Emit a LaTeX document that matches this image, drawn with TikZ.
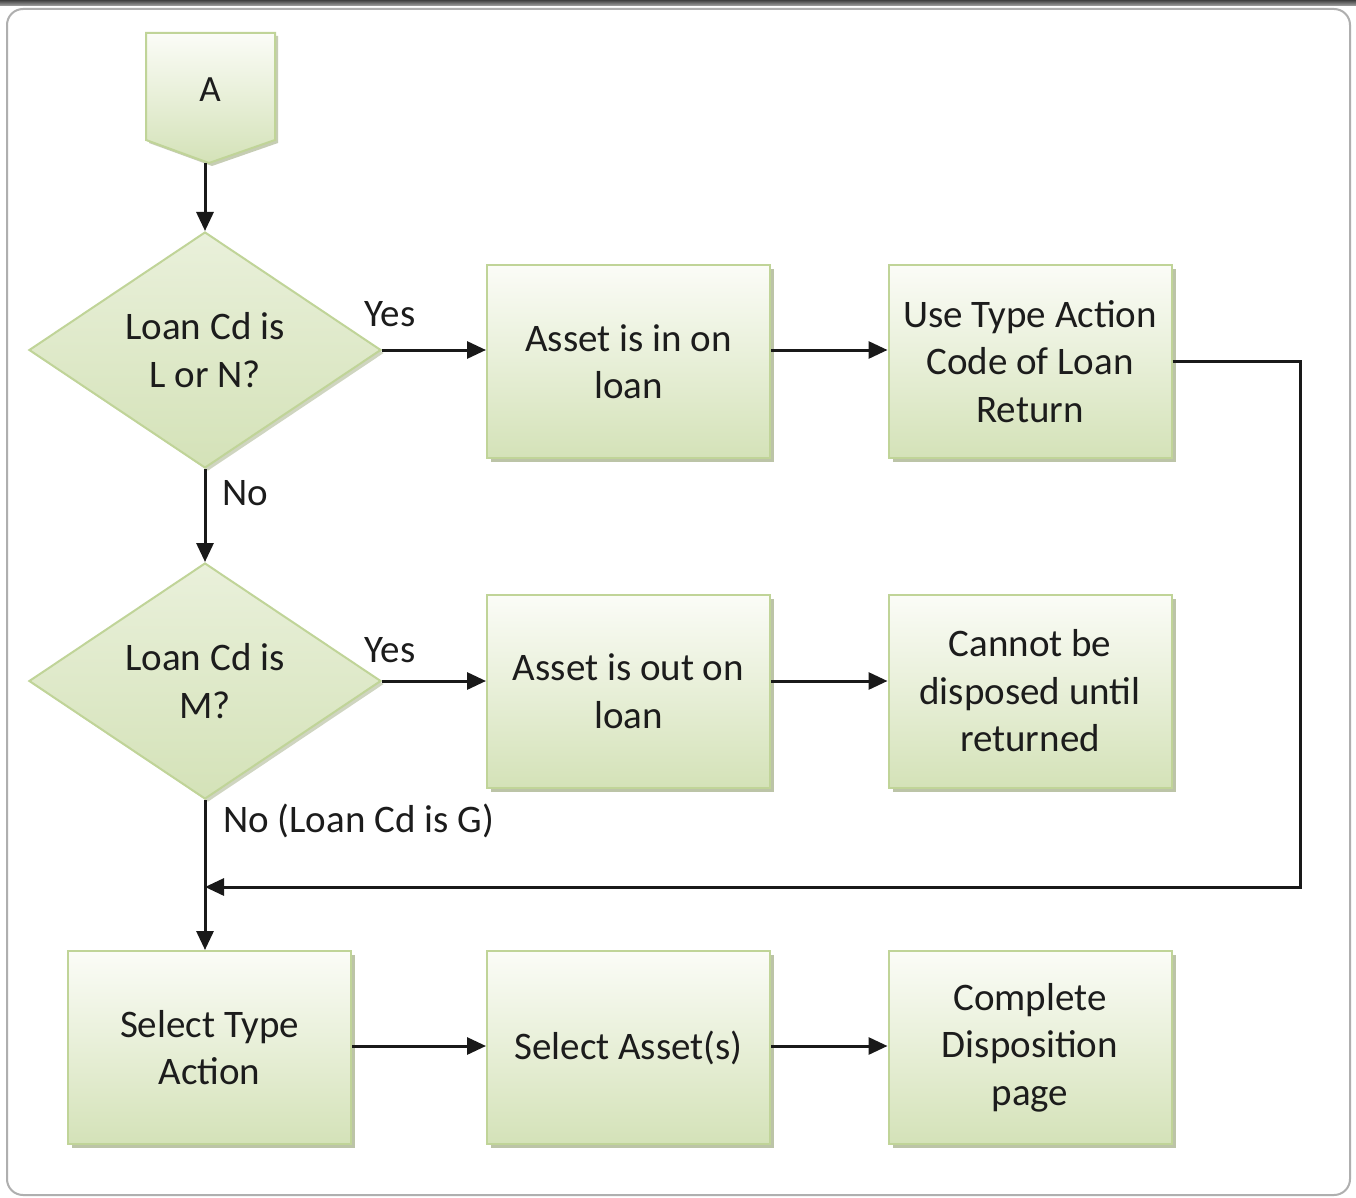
\documentclass[tikz,border=0pt]{standalone}
\usepackage{fontspec}
\setmainfont{Carlito}
\usetikzlibrary{shapes.geometric,arrows.meta,shadows,calc}
\definecolor{gborder}{RGB}{192,212,152}
\definecolor{gbot}{RGB}{212,226,184}
\definecolor{gtop}{RGB}{251,252,247}
\definecolor{txt}{RGB}{28,28,28}
\definecolor{shad}{RGB}{160,172,130}
\definecolor{framec}{RGB}{175,175,175}
\begin{document}
\begin{tikzpicture}[x=1pt,y=-1pt,
  lbl/.style={font=\fontsize{39}{47.5}\selectfont, text=txt, align=center, inner sep=0pt},
  box/.style={lbl, rectangle, draw=gborder, line width=2pt, top color=gtop, bottom color=gbot,
    minimum width=283pt, minimum height=193pt,
    drop shadow={shadow xshift=4pt, shadow yshift=-4pt, fill=shad, opacity=0.7}},
  dec/.style={lbl, diamond, draw=gborder, line width=2pt, top color=gtop!55!gbot, bottom color=gbot,
    minimum width=352pt, minimum height=236pt,
    drop shadow={shadow xshift=3pt, shadow yshift=-3pt, fill=shad, opacity=0.5}},
  conn/.style={line width=3pt, draw=black!90},
  arr/.style={conn, -{Triangle[width=17pt,length=19pt]}},
  ylab/.style={font=\fontsize{39}{47}\selectfont, text=txt, inner sep=0pt}
]
\useasboundingbox (0,0) rectangle (1356,1198);
% frame
\fill[white] (0,0) rectangle (1356,1198);
\shade[top color=black!75, bottom color=black!35] (0,0) rectangle (1356,6);
\draw[framec, line width=2pt, rounded corners=16pt] (7,9) rectangle (1350,1195);

% off-page connector A
\shade[draw=gborder, line width=2pt, top color=gtop, bottom color=gbot,
  drop shadow={shadow xshift=3pt, shadow yshift=-3pt, fill=shad, opacity=0.6}]
  (146,33) -- (275,33) -- (275,140) -- (209,163) -- (146,140) -- cycle;
\node[lbl, font=\fontsize{37}{44}\selectfont] (A) at (210,90) {A};
\coordinate (Atip) at (205,163);

% decisions
\node[dec] (d1) at (205,350) {Loan Cd is\\L or N?};
\node[dec] (d2) at (205,681) {Loan Cd is\\M?};

% boxes
\node[box] (in)   at (628.5,361.5) {Asset is in on\\loan};
\node[box] (use)  at (1030,361.5) {Use Type Action\\Code of Loan\\Return};
\node[box] (out)  at (628.5,691) {Asset is out on\\loan};
\node[box] (cant) at (1030,691) {Cannot be\\disposed until\\returned};
\node[box] (sel)  at (209.5,1047.5) {Select Type\\Action};
\node[box] (sa)   at (628.5,1047.5) {Select Asset(s)};
\node[box] (comp) at (1030,1047.5) {Complete\\Disposition\\page};

% labels
\node[ylab] (y1) at (390,314) {Yes};
\node[ylab] (n1) at (245,493) {No};
\node[ylab] (y2) at (390,650) {Yes};
\node[ylab, anchor=west] (n2) at (223,821) {No (Loan Cd is G)};

% connectors
\coordinate (join) at (205,887);
\coordinate (rt) at (1300,887);
\draw[arr] (Atip) -- (d1.north);
\draw[arr] (d1.east) -- (d1.east -| in.west);
\draw[arr] (in.east |- d1.east) -- (use.west |- d1.east);
\draw[arr] (d1.south) -- (d2.north);
\draw[arr] (d2.east) -- (d2.east -| out.west);
\draw[arr] (out.east |- d2.east) -- (cant.west |- d2.east);
\draw[arr] (d2.south) -- (d2.south |- sel.north);
\draw[arr] (use.east) -| (rt) -- (join);
\draw[arr] (sel.east |- 0,1046) -- (sa.west |- 0,1046);
\draw[arr] (sa.east |- 0,1046) -- (comp.west |- 0,1046);
\end{tikzpicture}
\end{document}
